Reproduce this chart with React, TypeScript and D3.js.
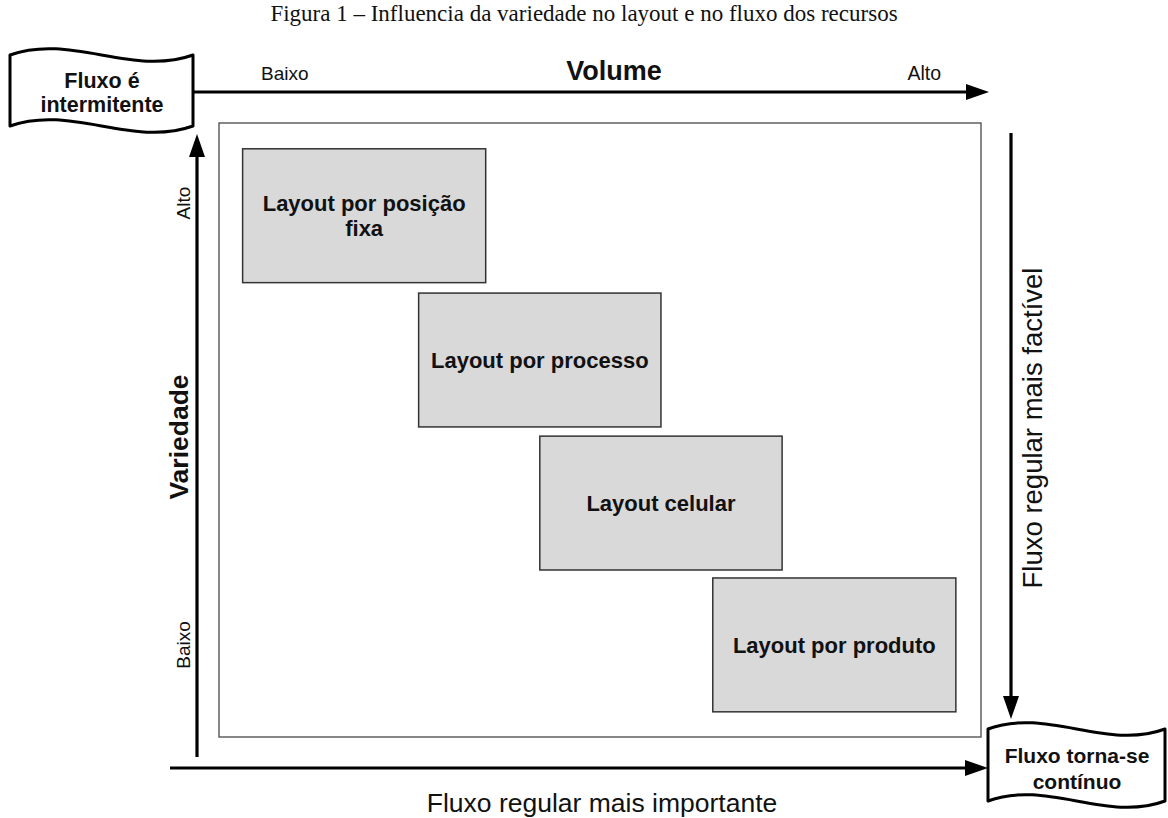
import React from "react";
import * as d3 from "d3";

// ---- Data ----
const titleText = "Figura 1 – Influencia da variedade no layout e no fluxo dos recursos";
const layoutLines: string[][] = [
  ["Layout por posição", "fixa"],
  ["Layout por processo"],
  ["Layout celular"],
  ["Layout por produto"],
];
// position of each layout in the volume (x) / variety (y) plane, domain 0–10
const volumeStart = [0.31, 2.62, 4.21, 6.48];
const volumeWidth = [3.19, 3.18, 3.18, 3.19];
const varietyTop = [9.58, 7.23, 4.9, 2.59];
const varietyHeight = [2.18, 2.18, 2.18, 2.18];

const volumeLabels = ["Baixo", "Volume", "Alto"];
const varietyLabels = ["Alto", "Variedade", "Baixo"];
const flowStartLines = ["Fluxo é", "intermitente"];
const flowEndLines = ["Fluxo torna-se", "contínuo"];
const rightLabel = "Fluxo regular mais factível";
const bottomLabel = "Fluxo regular mais importante";

const W = 1168;
const H = 818;
const SANS = "'Liberation Sans', Arial, sans-serif";
const SERIF = "'Liberation Serif', 'Times New Roman', serif";

const frame = { x0: 219, x1: 981, y0: 123, y1: 737 };

function wavyBanner(x0: number, x1: number, yTop: number, yBot: number, h: number) {
  const w = x1 - x0;
  const p = d3.path();
  p.moveTo(x0, yTop);
  p.bezierCurveTo(x0 + w / 3, yTop - h, x0 + (2 * w) / 3, yTop + h, x1, yTop);
  p.lineTo(x1, yBot);
  p.bezierCurveTo(x0 + (2 * w) / 3, yBot + h, x0 + w / 3, yBot - h, x0, yBot);
  p.closePath();
  return p.toString();
}

function arrowHead(tx: number, ty: number, dir: "right" | "up" | "down", len = 23, half = 8) {
  if (dir === "right") return `M${tx},${ty} L${tx - len},${ty - half} L${tx - len},${ty + half} Z`;
  if (dir === "up") return `M${tx},${ty} L${tx - half},${ty + len} L${tx + half},${ty + len} Z`;
  return `M${tx},${ty} L${tx - half},${ty - len} L${tx + half},${ty - len} Z`;
}

export default function App() {
  const x = d3.scaleLinear().domain([0, 10]).range([frame.x0, frame.x1]);
  const y = d3.scaleLinear().domain([0, 10]).range([frame.y1, frame.y0]);

  return (
    <svg width={W} height={H} viewBox={`0 0 ${W} ${H}`} style={{ display: "block", position: "absolute", left: 0, top: 0, background: "#fff" }}>
      <rect x={0} y={0} width={W} height={H} fill="#fff" />
      {/* title */}
      <text x={584} y={21} textAnchor="middle" fontFamily={SERIF} fontSize={23} fill="#111">
        {titleText}
      </text>

      {/* frame */}
      <rect x={frame.x0} y={frame.y0} width={frame.x1 - frame.x0} height={frame.y1 - frame.y0} fill="#fff" stroke="#555" strokeWidth={1.4} />

      {/* layout boxes */}
      {layoutLines.map((lines, i) => {
        const bx = x(volumeStart[i]);
        const bw = x(volumeStart[i] + volumeWidth[i]) - bx;
        const by = y(varietyTop[i]);
        const bh = y(varietyTop[i] - varietyHeight[i]) - by;
        const cx = bx + bw / 2;
        const cy = by + bh / 2;
        return (
          <g key={i}>
            <rect x={bx} y={by} width={bw} height={bh} fill="#d9d9d9" stroke="#333" strokeWidth={1.5} />
            {lines.map((ln, j) => (
              <text key={j} x={cx} y={cy + 8 + (j - (lines.length - 1) / 2) * 25} textAnchor="middle" fontFamily={SANS} fontWeight="bold" fontSize={22} fill="#111">
                {ln}
              </text>
            ))}
          </g>
        );
      })}

      {/* top (volume) arrow */}
      <line x1={194} y1={92} x2={968} y2={92} stroke="#000" strokeWidth={3.2} />
      <path d={arrowHead(989, 92, "right")} fill="#000" />
      <text x={261} y={80} fontFamily={SANS} fontSize={19} fill="#111">{volumeLabels[0]}</text>
      <text x={614} y={80} textAnchor="middle" fontFamily={SANS} fontWeight="bold" fontSize={27} fill="#111">{volumeLabels[1]}</text>
      <text x={941} y={80} textAnchor="end" fontFamily={SANS} fontSize={19.5} fill="#111">{volumeLabels[2]}</text>

      {/* left (variety) arrow */}
      <line x1={197} y1={757} x2={197} y2={156} stroke="#000" strokeWidth={3.2} />
      <path d={arrowHead(197, 134, "up")} fill="#000" />
      <text transform="translate(190,203) rotate(-90)" textAnchor="middle" fontFamily={SANS} fontSize={19} fill="#111">{varietyLabels[0]}</text>
      <text transform="translate(188,437) rotate(-90)" textAnchor="middle" fontFamily={SANS} fontWeight="bold" fontSize={26.5} fill="#111">{varietyLabels[1]}</text>
      <text transform="translate(190,645) rotate(-90)" textAnchor="middle" fontFamily={SANS} fontSize={19} fill="#111">{varietyLabels[2]}</text>

      {/* right arrow */}
      <line x1={1011} y1={133} x2={1011} y2={697} stroke="#000" strokeWidth={3.2} />
      <path d={arrowHead(1011, 719, "down")} fill="#000" />
      <text transform="translate(1042,428) rotate(-90)" textAnchor="middle" fontFamily={SANS} fontSize={27.5} fill="#111">{rightLabel}</text>

      {/* bottom arrow */}
      <line x1={170} y1={768} x2={966} y2={768} stroke="#000" strokeWidth={3.2} />
      <path d={arrowHead(988, 768, "right")} fill="#000" />
      <text x={602} y={812} textAnchor="middle" fontFamily={SANS} fontSize={26.5} fill="#111">{bottomLabel}</text>

      {/* top-left banner */}
      <path d={wavyBanner(10, 193, 55, 126, 22)} fill="#fff" stroke="#000" strokeWidth={3} strokeLinejoin="round" />
      {flowStartLines.map((ln, j) => (
        <text key={j} x={102} y={88 + j * 24} textAnchor="middle" fontFamily={SANS} fontWeight="bold" fontSize={21.5} fill="#111">{ln}</text>
      ))}

      {/* bottom-right banner */}
      <path d={wavyBanner(988, 1165, 729, 801, 22)} fill="#fff" stroke="#000" strokeWidth={3} strokeLinejoin="round" />
      {flowEndLines.map((ln, j) => (
        <text key={j} x={1077} y={763 + j * 26} textAnchor="middle" fontFamily={SANS} fontWeight="bold" fontSize={21} fill="#111">{ln}</text>
      ))}
    </svg>
  );
}
